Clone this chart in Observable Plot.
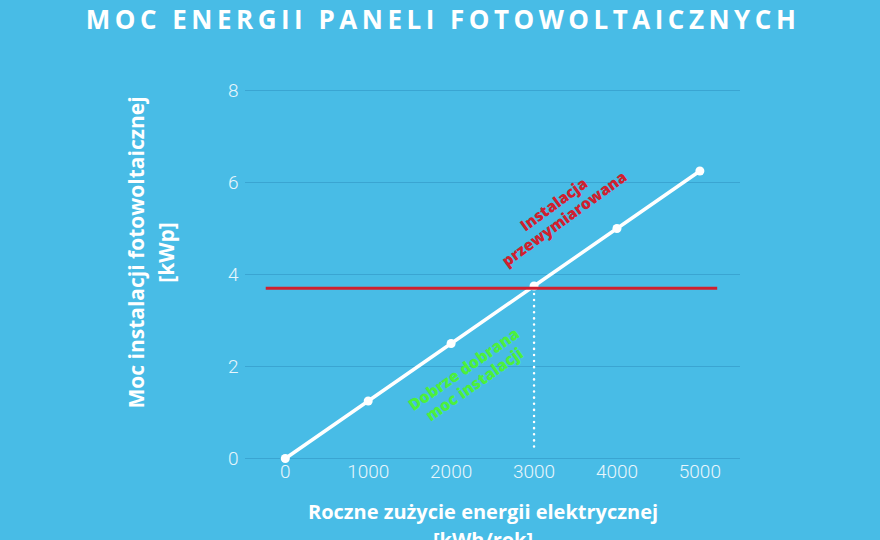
<!DOCTYPE html>
<html><head><meta charset="utf-8">
<script src="https://cdn.jsdelivr.net/npm/d3@7"></script>
<script src="https://cdn.jsdelivr.net/npm/@observablehq/plot@0.6"></script>
<style>
html,body{margin:0;padding:0;background:#48bce6;}
#chart{width:880px;height:540px;overflow:hidden;}
</style></head>
<body><div id="chart"></div>
<script>
const consumption = [0, 1000, 2000, 3000, 4000, 5000];
const power = [0, 1.25, 2.5, 3.75, 5, 6.25];
const xTicks = [0, 1000, 2000, 3000, 4000, 5000];
const yTicks = [0, 2, 4, 6, 8];
const optimalPower = 3.7;
const redExtent = [-230, 5215];
const dottedX = 3000;
const dottedY = [0.25, 3.62];
const title = "MOC ENERGII PANELI FOTOWOLTAICZNYCH";
const yLabel = "Moc instalacji fotowoltaicznej\n[kWp]";
const xLabel = "Roczne zużycie energii elektrycznej\n[kWh/rok]";
const overLabel = "Instalacja\nprzewymiarowana";
const goodLabel = "Dobrze dobrana\nmoc instalacji";

const data = consumption.map((x, i) => ({x, y: power[i]}));
const font = "'Open Sans', Lato, sans-serif";
const tickFont = "Roboto, sans-serif";

const chart = Plot.plot({
  width: 880, height: 540,
  marginLeft: 245, marginRight: 140, marginTop: 90, marginBottom: 82,
  style: {background: "#48bce6", fontFamily: font, overflow: "visible"},
  x: {domain: [-480, 5490], axis: null},
  y: {domain: [0, 8], axis: null},
  marks: [
    Plot.gridY(yTicks, {stroke: "#3aa5d2", strokeOpacity: 1, strokeWidth: 1.2}),
    Plot.text(yTicks, {x: -480, y: d => d, text: d => String(d), textAnchor: "end", dx: -7, fill: "#e8f6fc", fontSize: 19, fontFamily: tickFont, fontWeight: 300}),
    Plot.text(xTicks, {x: d => d, y: 0, text: d => String(d), dy: 13, fill: "#e8f6fc", fontSize: 19, fontFamily: tickFont, fontWeight: 300}),
    Plot.ruleX([dottedX], {y1: dottedY[0], y2: dottedY[1], stroke: "white", strokeWidth: 2.5, strokeDasharray: "0.1 6", strokeLinecap: "round"}),
    Plot.line(data, {x: "x", y: "y", stroke: "white", strokeWidth: 3.5}),
    Plot.dot(data, {x: "x", y: "y", r: 4.5, fill: "white", stroke: "none"}),
    Plot.ruleY([optimalPower], {x1: redExtent[0], x2: redExtent[1], stroke: "#d0202e", strokeWidth: 3}),
    Plot.text([overLabel], {x: 3300, y: 5.37, text: d => d, rotate: -36, fill: "#d0202e", fontSize: 15.5, fontWeight: 800, lineHeight: 1.15, fontFamily: font}),
    Plot.text([goodLabel], {x: 2215, y: 1.78, text: d => d, rotate: -35, fill: "#4cf03c", fontSize: 16, fontWeight: 800, lineHeight: 1.15, fontFamily: font}),
    Plot.text([title], {frameAnchor: "top", dx: -50, dy: -70, lineAnchor: "middle", text: d => d, fill: "white", fontSize: 26, fontWeight: "bold", fontFamily: font}),
    Plot.text([yLabel], {frameAnchor: "left", textAnchor: "middle", dx: -96, dy: -22, rotate: -90, text: d => d, fill: "white", fontSize: 21, fontWeight: "bold", lineHeight: 1.43, fontFamily: font}),
    Plot.text([xLabel], {frameAnchor: "bottom", textAnchor: "middle", lineAnchor: "top", dx: -10, dy: 41, text: d => d, fill: "white", fontSize: 20, fontWeight: "bold", lineHeight: 1.4, fontFamily: font})
  ]
});
d3.select(chart).selectAll("text").filter(function() { return this.textContent === title; }).style("letter-spacing", "4.5px");
document.getElementById("chart").appendChild(chart);
</script></body></html>
